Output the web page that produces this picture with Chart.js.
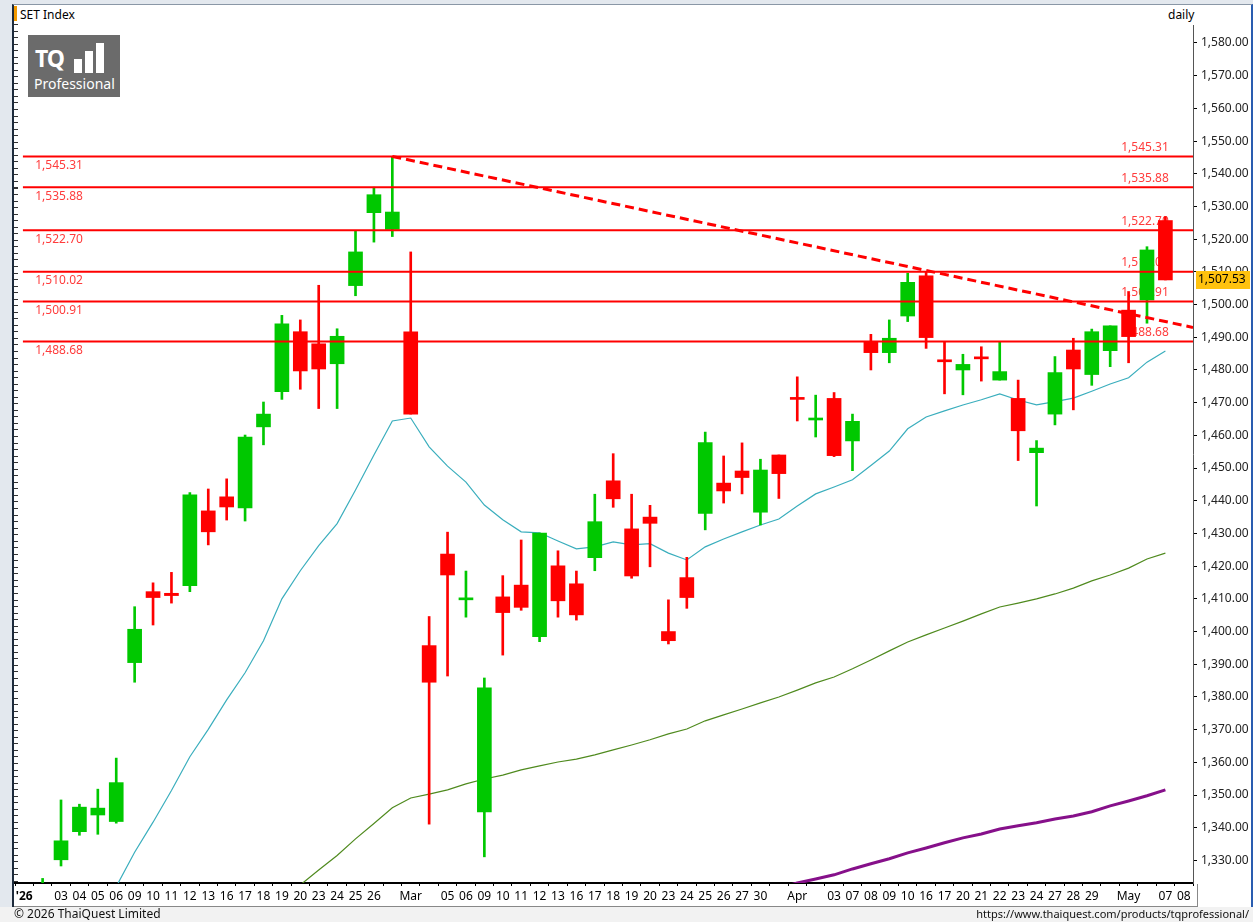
<!DOCTYPE html>
<html>
<head>
<meta charset="utf-8">
<script src="https://cdn.jsdelivr.net/npm/chart.js@4.4.1/dist/chart.umd.min.js"></script>
<style>
  html, body { margin: 0; padding: 0; }
  body { width: 1253px; height: 922px; position: relative; overflow: hidden; background: #e3e8ee; font-family: 'Noto Sans', sans-serif; }
  #frame { position: absolute; left: 12px; top: 4px; width: 1241px; height: 903px; background: #fff; border-left: 2px solid #1d2b3c; border-top: 1px solid #8a97a6; border-right: 2px solid #2a5db0; box-sizing: border-box; }
  #leftTicks { position: absolute; left: 14px; top: 24px; width: 4px; height: 858px; background: repeating-linear-gradient(to bottom, #333 0 1px, transparent 1px 6.54px); }
  #axisRow { position: absolute; left: 14px; top: 906px; width: 1184px; height: 1px; background: #888; }
  #axisEnd { position: absolute; left: 1197px; top: 884px; width: 1px; height: 23px; background: #888; }
  #footer { position: absolute; left: 0; top: 907px; width: 1253px; height: 15px; background: #f2f2f2; }
  #copy { position: absolute; left: 14px; top: 905px; font-size: 12px; color: #111; }
  #url { position: absolute; right: 4px; top: 906px; font-size: 11px; color: #111; }
  #title { position: absolute; left: 20px; top: 6px; font-size: 12px; color: #000; }
  #mark { position: absolute; left: 14px; top: 6px; width: 3px; height: 15px; background: #f39a00; }
  #period { position: absolute; left: 1168px; top: 6px; font-size: 12px; color: #000; }
  #logo { position: absolute; left: 28px; top: 35px; width: 92px; height: 62px; background: #6b6b6b; color: #fff; }
  #logo .tq { position: absolute; left: 7px; top: 10px; font-size: 23px; font-weight: bold; letter-spacing: -1px; line-height: 26px; }
  #logo .bars { position: absolute; left: 46px; top: 6px; width: 40px; height: 32px; display: flex; align-items: flex-end; gap: 3px; }
  #logo .bars i { display: block; width: 8px; background: #fff; }
  #logo .pro { position: absolute; left: 6px; top: 40px; font-size: 14px; line-height: 18px; }
  canvas { position: absolute; left: 0; top: 0; }
</style>
</head>
<body>
<div id="frame"></div>
<div id="leftTicks"></div>
<div id="footer"></div>
<div id="axisRow"></div>
<div id="axisEnd"></div>
<div id="mark"></div>
<div id="title">SET Index</div>
<div id="period">daily</div>
<div id="logo"><div class="tq">TQ</div><div class="bars"><i style="height:14px"></i><i style="height:22px"></i><i style="height:30px"></i></div><div class="pro">Professional</div></div>
<canvas id="setChart" width="1253" height="908"></canvas>
<div id="copy">© 2026 ThaiQuest Limited</div>
<div id="url">https://www.thaiquest.com/products/tqprofessional/</div>
<script>
const xLabels = ["'26", '', '03', '04', '05', '06', '09', '10', '11', '12',
  '13', '16', '17', '18', '19', '20', '23', '24', '25', '26',
  '', 'Mar', '', '05', '06', '09', '10', '11', '12', '13',
  '16', '17', '18', '19', '20', '23', '24', '25', '26', '27',
  '30', '', 'Apr', '', '03', '07', '08', '09', '10', '16',
  '17', '20', '21', '22', '23', '24', '27', '28', '29', '',
  'May', '', '07', '08'];

const opens = [null, 1315, 1330.2, 1338.8, 1343.9, 1341.9, 1390.5, 1412.2, 1411.7, 1414.0,
  1436.9, 1441.2, 1437.8, 1462.6, 1473.4, 1491.7, 1488.0, 1481.9, 1505.8, 1528.1,
  1523.0, 1491.7, 1395.7, 1423.7, 1409.7, 1344.8, 1410.6, 1414.2, 1398.4, 1420.1,
  1414.6, 1422.6, 1446.1, 1431.4, 1435.0, 1400.0, 1416.5, 1436.1, 1445.4, 1449.1,
  1436.5, 1454.0, 1471.6, 1464.7, 1471.3, 1458.3, 1488.7, 1485.3, 1496.5, 1508.8,
  1483.1, 1480.0, 1484.0, 1476.9, 1471.3, 1454.7, 1466.5, 1486.1, 1478.6, 1485.9,
  1498.3, 1501.4, 1525.7, null];
const highs = [null, 1324.5, 1348.5, 1347.2, 1351.8, 1361.3, 1407.6, 1414.9, 1418.1, 1442.5,
  1443.6, 1446.7, 1460.1, 1470.2, 1496.7, 1495.3, 1505.9, 1492.6, 1522.6, 1535.9,
  1545.31, 1516.1, 1404.6, 1430.4, 1418.5, 1385.8, 1417.1, 1428.0, 1430.1, 1424.7,
  1418.5, 1442.0, 1454.4, 1442.0, 1438.6, 1409.7, 1422.7, 1461.0, 1453.7, 1457.7,
  1452.7, 1454.0, 1477.9, 1472.3, 1473.1, 1466.5, 1490.9, 1495.3, 1509.6, 1510.1,
  1488.7, 1484.8, 1487.1, 1488.7, 1476.9, 1458.4, 1484.1, 1489.7, 1492.5, 1493.5,
  1504.0, 1517.7, 1526.9, null];
const lows = [null, 1312, 1328.3, 1337.7, 1338.0, 1341.4, 1384.5, 1402.0, 1408.7, 1412.2,
  1426.5, 1434.1, 1433.8, 1457.1, 1471.0, 1474.1, 1468.2, 1468.2, 1502.7, 1519.1,
  1520.8, 1466.5, 1341.1, 1386.4, 1404.4, 1331.1, 1392.8, 1406.5, 1396.9, 1404.4,
  1403.5, 1418.6, 1438.0, 1416.3, 1419.8, 1396.2, 1407.1, 1431.1, 1439.3, 1442.1,
  1432.6, 1440.7, 1464.4, 1459.5, 1453.5, 1449.2, 1480.0, 1482.2, 1494.8, 1486.6,
  1472.7, 1472.4, 1476.6, 1476.9, 1452.3, 1438.4, 1463.2, 1467.8, 1475.3, 1481.0,
  1482.2, 1494.3, 1507.53, null];
const closes = [null, 1322, 1336.0, 1346.3, 1346.0, 1353.8, 1400.7, 1410.4, 1411.0, 1441.8,
  1430.5, 1438.1, 1459.5, 1466.5, 1494.1, 1479.7, 1480.3, 1490.3, 1516.1, 1533.6,
  1528.3, 1466.5, 1384.5, 1417.3, 1410.3, 1382.8, 1405.8, 1407.4, 1430.1, 1409.4,
  1405.1, 1433.6, 1440.6, 1417.0, 1433.1, 1397.2, 1410.4, 1457.8, 1443.0, 1447.1,
  1449.4, 1448.3, 1471.0, 1465.3, 1453.8, 1464.3, 1485.3, 1489.7, 1506.8, 1489.9,
  1482.5, 1481.7, 1483.4, 1479.5, 1461.4, 1456.1, 1479.2, 1480.3, 1491.7, 1493.5,
  1490.2, 1516.7, 1507.53, null];

// moving averages (short / medium / long)
const maShort = [null, null, null, null, 1313, 1322, 1332.5, 1341.7, 1351.4, 1361.7,
  1370.1, 1379.1, 1387.4, 1397.2, 1410.0, 1418.6, 1426.3, 1433.0, 1443.3, 1454.0,
  1464.4, 1465.3, 1456.5, 1450.6, 1445.7, 1438.7, 1434.2, 1430.5, 1430.2, 1427.7,
  1425.3, 1425.9, 1427.4, 1426.5, 1426.9, 1424.0, 1421.9, 1425.9, 1428.3, 1430.5,
  1432.6, 1434.4, 1438.4, 1442.1, 1444.2, 1446.4, 1450.8, 1455.2, 1462.0, 1465.6,
  1467.5, 1469.3, 1470.9, 1472.7, 1470.8, 1469.3, 1470.3, 1471.4, 1473.5, 1475.7,
  1477.6, 1482.4, 1485.8, null];
const maMid = [null, null, null, null, null, null, null, null, null, null,
  null, null, null, null, 1318, 1322.5, 1327.1, 1331.5, 1336.6, 1341.3,
  1346.1, 1349.1, 1350.3, 1351.6, 1353.4, 1354.9, 1356.1, 1357.7, 1358.9, 1360.1,
  1361.0, 1362.3, 1363.8, 1365.3, 1366.9, 1368.7, 1370.2, 1372.7, 1374.5, 1376.3,
  1378.2, 1380.0, 1382.1, 1384.3, 1386.1, 1388.6, 1391.3, 1394.1, 1396.8, 1399.0,
  1401.1, 1403.2, 1405.4, 1407.5, 1408.7, 1410.0, 1411.5, 1413.3, 1415.5, 1417.3,
  1419.4, 1422.2, 1424.0, null];
const maLong = [null, null, null, null, null, null, null, null, null, null,
  null, null, null, null, null, null, null, null, null, null,
  null, null, null, null, null, null, null, null, null, null,
  null, null, null, null, null, null, null, null, null, null,
  null, 1321.5, 1323.1, 1324.3, 1325.6, 1327.4, 1329.0, 1330.5, 1332.3, 1333.8,
  1335.4, 1336.9, 1338.1, 1339.6, 1340.6, 1341.5, 1342.7, 1343.6, 1344.9, 1346.7,
  1348.2, 1349.8, 1351.6, null];

const levels = [1545.31, 1535.88, 1522.70, 1510.02, 1500.91, 1488.68];
const trendX = [20, 63.5];
const trendY = [1545.31, 1493.0];
const yTicks = [1330, 1340, 1350, 1360, 1370, 1380, 1390, 1400, 1410, 1420, 1430, 1440, 1450,
  1460, 1470, 1480, 1490, 1500, 1510, 1520, 1530, 1540, 1550, 1560, 1570, 1580];

const GREEN = '#00c800';
const RED = '#ff0000';
const LEVEL_TEXT = '#ff3c3c';

function fmt(v) {
  const parts = v.toFixed(2).split('.');
  parts[0] = parts[0].replace(/\B(?=(\d{3})+(?!\d))/g, ',');
  return parts.join('.');
}

const candleIdx = xLabels.map((_, i) => i).filter(i => opens[i] !== null);
const candleColors = candleIdx.map(i => closes[i] >= opens[i] ? GREEN : RED);
const series = arr => arr.map((v, i) => ({ x: i, y: v }));

const levelDatasets = levels.map(v => ({
  type: 'line',
  data: [{ x: -0.07, y: v }, { x: 63.5, y: v }],
  borderColor: RED,
  borderWidth: 2,
  pointRadius: 0,
  order: 2,
}));

const levelLabels = {
  id: 'levelLabels',
  beforeDatasetsDraw(chart) {
    const { ctx, scales: { x, y } } = chart;
    ctx.save();
    ctx.font = '12px "Noto Sans", sans-serif';
    ctx.fillStyle = LEVEL_TEXT;
    ctx.textBaseline = 'middle';
    ctx.textAlign = 'left';
    levels.forEach(v => {
      const py = y.getPixelForValue(v);
      ctx.fillText(fmt(v), x.getPixelForValue(0.6), py + 9);
      ctx.fillText(fmt(v), x.getPixelForValue(59.6), py - 9);
    });
    ctx.restore();
  },
};

const priceTag = {
  id: 'priceTag',
  afterDraw(chart) {
    const { ctx, scales: { y } } = chart;
    const last = closes[62];
    const py = Math.round(y.getPixelForValue(last));
    ctx.save();
    ctx.fillStyle = '#ffc20e';
    ctx.fillRect(1196, py - 9, 54, 18);
    ctx.fillStyle = '#000';
    ctx.font = '12px "Noto Sans", sans-serif';
    ctx.textBaseline = 'middle';
    ctx.fillText(fmt(last), 1198, py);
    ctx.restore();
  },
};

new Chart(document.getElementById('setChart').getContext('2d'), {
  type: 'bar',
  data: {
    datasets: [
      {
        type: 'line',
        data: trendX.map((v, i) => ({ x: v, y: trendY[i] })),
        borderColor: RED,
        borderWidth: 3,
        borderDash: [9, 5],
        pointRadius: 0,
        order: 1,
      },
      ...levelDatasets,
      {
        data: candleIdx.map(i => ({ x: i, y: [opens[i], closes[i]] })),
        backgroundColor: candleColors,
        barThickness: 14,
        minBarLength: 2,
        grouped: false,
        order: 3,
      },
      {
        data: candleIdx.map(i => ({ x: i, y: [lows[i], highs[i]] })),
        backgroundColor: candleColors,
        barThickness: 2,
        grouped: false,
        order: 4,
      },
      {
        type: 'line',
        data: series(maShort),
        borderColor: '#3aaebd',
        borderWidth: 1.2,
        pointRadius: 0,
        order: 5,
      },
      {
        type: 'line',
        data: series(maMid),
        borderColor: '#4f8a1e',
        borderWidth: 1.2,
        pointRadius: 0,
        order: 5,
      },
      {
        type: 'line',
        data: series(maLong),
        borderColor: '#86108a',
        borderWidth: 3,
        pointRadius: 0,
        order: 5,
      },
    ],
  },
  options: {
    responsive: false,
    maintainAspectRatio: false,
    animation: false,
    layout: { padding: { left: 15, top: 25, right: 0, bottom: 0 } },
    plugins: { legend: { display: false }, tooltip: { enabled: false } },
    scales: {
      x: {
        type: 'linear',
        min: -0.5,
        max: 63.5,
        offset: false,
        afterBuildTicks: axis => { axis.ticks = xLabels.map((_, i) => ({ value: i })); },
        afterFit: axis => { axis.height = 25; },
        grid: { drawOnChartArea: false, drawTicks: true, tickLength: 3, color: '#000' },
        border: { color: '#000', width: 2 },
        ticks: {
          autoSkip: false,
          maxRotation: 0,
          padding: 3,
          color: '#000',
          font: c => ({ family: 'Noto Sans', size: 12, weight: c.index === 0 ? 'bold' : 'normal' }),
          callback: v => xLabels[v] ?? '',
        },
      },
      y: {
        position: 'right',
        min: 1323.1,
        max: 1585.5,
        afterBuildTicks: axis => { axis.ticks = yTicks.map(v => ({ value: v })); },
        afterFit: axis => { axis.width = 60; },
        grid: { drawOnChartArea: false, tickLength: 4, color: '#000' },
        border: { color: '#555', dash: [1, 2] },
        ticks: {
          padding: 4,
          color: '#222',
          font: { family: 'Noto Sans', size: 12 },
          callback: v => fmt(v),
        },
      },
    },
  },
  plugins: [levelLabels, priceTag],
});
</script>
</body>
</html>
